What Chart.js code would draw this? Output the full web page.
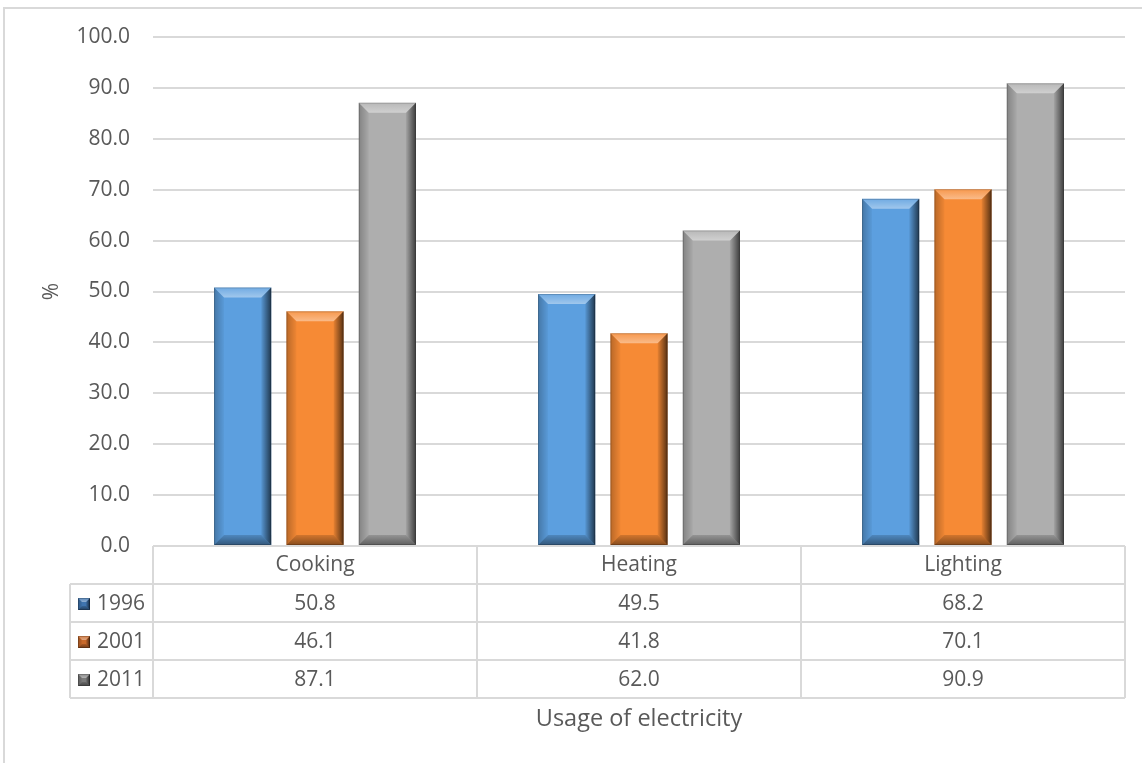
<!DOCTYPE html>
<html>
<head>
<meta charset="utf-8">
<title>Usage of electricity</title>
<script src="https://cdn.jsdelivr.net/npm/chart.js@4.4.1/dist/chart.umd.min.js"></script>
<style>
  html, body { margin: 0; padding: 0; background: #ffffff; }
  #wrap { width: 1142px; height: 763px; position: relative; }
</style>
</head>
<body>
<div id="wrap"><canvas id="chart" width="1142" height="763"></canvas></div>
<script>
// Usage categories and share of households (%) per census year
const categories = ['Cooking', 'Heating', 'Lighting'];
const years = ['1996', '2001', '2011'];
const values1996 = [50.8, 49.5, 68.2];
const values2001 = [46.1, 41.8, 70.1];
const values2011 = [87.1, 62.0, 90.9];
const yTicks = [0, 10, 20, 30, 40, 50, 60, 70, 80, 90, 100];

const seriesValues = [values1996, values2001, values2011];
const seriesColors = ['#5C9FDF', '#F68A35', '#AEAEAE'];
const legendColors = ['#3F74AE', '#C9692A', '#7A7A7A'];

const FONT = '"Open Sans", "DejaVu Sans", sans-serif';
const TEXT = '#595959';
const LINE = '#d9d9d9';

// Bevel shading drawn over each bar, using the bar geometry computed by Chart.js
function bevel(ctx, l, t, r, b, size) {
  const s = Math.min(size, (r - l) / 2, (b - t) / 2);
  // left side
  let g = ctx.createLinearGradient(l, 0, l + s, 0);
  g.addColorStop(0, 'rgba(0,0,0,0.25)');
  g.addColorStop(1, 'rgba(0,0,0,0.03)');
  ctx.fillStyle = g;
  ctx.beginPath(); ctx.moveTo(l, t); ctx.lineTo(l + s, t + s); ctx.lineTo(l + s, b - s); ctx.lineTo(l, b); ctx.closePath(); ctx.fill();
  // right side
  g = ctx.createLinearGradient(r - s, 0, r, 0);
  g.addColorStop(0, 'rgba(0,0,0,0.06)');
  g.addColorStop(1, 'rgba(0,0,0,0.65)');
  ctx.fillStyle = g;
  ctx.beginPath(); ctx.moveTo(r, t); ctx.lineTo(r - s, t + s); ctx.lineTo(r - s, b - s); ctx.lineTo(r, b); ctx.closePath(); ctx.fill();
  // top face
  g = ctx.createLinearGradient(0, t, 0, t + s);
  g.addColorStop(0, 'rgba(255,255,255,0.12)');
  g.addColorStop(1, 'rgba(255,255,255,0.42)');
  ctx.fillStyle = g;
  ctx.beginPath(); ctx.moveTo(l, t); ctx.lineTo(r, t); ctx.lineTo(r - s, t + s); ctx.lineTo(l + s, t + s); ctx.closePath(); ctx.fill();
  // bottom face
  g = ctx.createLinearGradient(0, b - s, 0, b);
  g.addColorStop(0, 'rgba(0,0,0,0.15)');
  g.addColorStop(1, 'rgba(0,0,0,0.45)');
  ctx.fillStyle = g;
  ctx.beginPath(); ctx.moveTo(l, b); ctx.lineTo(r, b); ctx.lineTo(r - s, b - s); ctx.lineTo(l + s, b - s); ctx.closePath(); ctx.fill();
  // rim
  ctx.strokeStyle = 'rgba(0,0,0,0.18)';
  ctx.lineWidth = 1;
  ctx.strokeRect(l + 0.5, t + 0.5, r - l - 1, b - t - 1);
}

const bevelPlugin = {
  id: 'bevelBars',
  afterDatasetsDraw(chart) {
    const ctx = chart.ctx;
    ctx.save();
    chart.data.datasets.forEach((ds, i) => {
      chart.getDatasetMeta(i).data.forEach(bar => {
        const p = bar.getProps(['x', 'y', 'base', 'width'], true);
        bevel(ctx, p.x - p.width / 2, Math.min(p.y, p.base), p.x + p.width / 2, Math.max(p.y, p.base), 10);
      });
    });
    ctx.restore();
  }
};

// Outer frame of the chart
const framePlugin = {
  id: 'frame',
  beforeDraw(chart) {
    const ctx = chart.ctx;
    ctx.save();
    ctx.strokeStyle = LINE;
    ctx.lineWidth = 2;
    ctx.strokeRect(4, 8, chart.width + 20, chart.height + 20);
    ctx.restore();
  }
};

// Data table beneath the plot, with series keys, and the horizontal axis title
const tablePlugin = {
  id: 'dataTable',
  afterDraw(chart) {
    const ctx = chart.ctx;
    const area = chart.chartArea;
    const xs = chart.scales.x;
    const rowH = 38;
    const top = area.bottom;
    const keyLeft = 70;
    const colW = (area.right - area.left) / categories.length;
    const nRows = years.length;
    const bottom = top + rowH * (nRows + 1);

    ctx.save();
    ctx.strokeStyle = LINE;
    ctx.lineWidth = 2;
    ctx.beginPath();
    // header top line and row lines
    ctx.moveTo(area.left, top); ctx.lineTo(area.right, top);
    for (let r = 1; r <= nRows + 1; r++) {
      const y = top + rowH * r;
      ctx.moveTo(keyLeft, y); ctx.lineTo(area.right, y);
    }
    // column lines
    for (let c = 0; c <= categories.length; c++) {
      const x = area.left + colW * c;
      ctx.moveTo(x, top); ctx.lineTo(x, bottom);
    }
    ctx.moveTo(keyLeft, top + rowH); ctx.lineTo(keyLeft, bottom);
    ctx.stroke();

    ctx.font = '21px ' + FONT;
    ctx.fillStyle = TEXT;
    ctx.textBaseline = 'middle';
    ctx.textAlign = 'center';
    categories.forEach((cat, c) => {
      const cx = xs.getPixelForValue(c);
      ctx.fillText(cat, cx, top + rowH / 2);
      seriesValues.forEach((vals, r) => {
        ctx.fillText(vals[c].toFixed(1), cx, top + rowH * (r + 1) + rowH / 2 + 1);
      });
    });

    years.forEach((yr, r) => {
      const cy = top + rowH * (r + 1) + rowH / 2 + 1;
      const k = 12;
      const kx = 78, ky = cy - k / 2;
      ctx.fillStyle = legendColors[r];
      ctx.fillRect(kx, ky, k, k);
      bevel(ctx, kx, ky, kx + k, ky + k, 4);
      ctx.fillStyle = TEXT;
      ctx.textAlign = 'left';
      ctx.fillText(yr, 97, cy);
    });

    ctx.textAlign = 'center';
    ctx.font = '23.5px ' + FONT;
    ctx.fillText('Usage of electricity', (area.left + area.right) / 2, bottom + 21);
    ctx.restore();
  }
};

new Chart(document.getElementById('chart'), {
  type: 'bar',
  data: {
    labels: categories,
    datasets: years.map((yr, i) => ({
      label: yr,
      data: seriesValues[i],
      backgroundColor: seriesColors[i],
      borderWidth: 0,
      categoryPercentage: 0.67,
      barPercentage: 0.79
    }))
  },
  options: {
    responsive: false,
    animation: false,
    layout: { padding: { left: 4, right: 17, top: 37, bottom: 217 } },
    plugins: {
      legend: { display: false },
      tooltip: { enabled: false }
    },
    scales: {
      x: { display: false },
      y: {
        min: 0,
        max: 100,
        afterFit(scale) { scale.width = 149; },
        afterBuildTicks(scale) { scale.ticks = yTicks.map(v => ({ value: v })); },
        border: { display: false },
        grid: { color: LINE, lineWidth: 2, drawTicks: false },
        ticks: {
          padding: 23,
          color: TEXT,
          font: { family: FONT, size: 21 },
          callback: v => Number(v).toFixed(1)
        },
        title: {
          display: true,
          text: '%',
          color: TEXT,
          font: { family: FONT, size: 21 },
          padding: { top: 35, bottom: 0 }
        }
      }
    }
  },
  plugins: [framePlugin, bevelPlugin, tablePlugin]
});
</script>
</body>
</html>
